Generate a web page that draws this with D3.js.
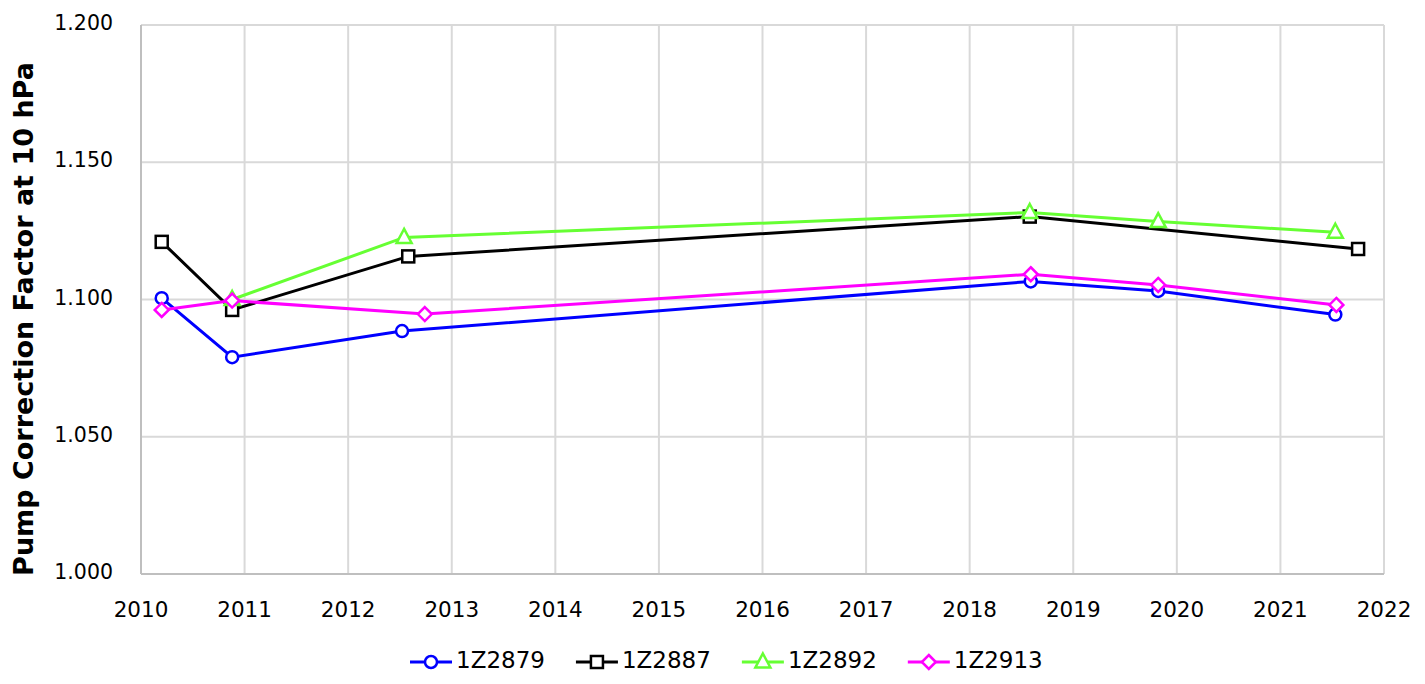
<!DOCTYPE html>
<head>
    <meta charset="utf-8">
    <script src="https://d3js.org/d3.v7.min.js"></script>
    <style>
        body { margin: 0; background: #fff; }
        text { font-family: "DejaVu Sans", Verdana, sans-serif; }
    </style>
</head>
<body>
    <svg id="my_dataviz" width="1425" height="684"></svg>
    <script>
        // series data (decimal year, correction factor)
        var names = ["1Z2879", "1Z2887", "1Z2892", "1Z2913"];
        var colors = ["#0000ff", "#000000", "#66ff33", "#ff00ff"];
        var shapes = ["circle", "square", "triangle", "diamond"];

        var years1 = [2010.20, 2010.88, 2012.52, 2018.59, 2019.82, 2021.53];
        var vals1  = [1.1005, 1.0790, 1.0885, 1.1066, 1.1031, 1.0945];

        var years2 = [2010.20, 2010.88, 2012.58, 2018.58, 2021.75];
        var vals2  = [1.1210, 1.0962, 1.1157, 1.1302, 1.1184];

        var years3 = [2010.88, 2012.54, 2018.58, 2019.82, 2021.53];
        var vals3  = [1.1000, 1.1226, 1.1317, 1.1284, 1.1245];

        var years4 = [2010.20, 2010.88, 2012.74, 2018.59, 2019.82, 2021.54];
        var vals4  = [1.0962, 1.0996, 1.0947, 1.1092, 1.1053, 1.0980];

        var yearTicks = d3.range(2010, 2023, 1);
        var valueTicks = [1.000, 1.050, 1.100, 1.150, 1.200];

        var allYears = [years1, years2, years3, years4];
        var allVals = [vals1, vals2, vals3, vals4];

        var svg = d3.select("svg");

        var x = d3.scaleLinear().domain([2010, 2022]).range([141, 1384]);
        var y = d3.scaleLinear().domain([1.0, 1.2]).range([574, 25]);

        // gridlines
        svg.append("g").selectAll("line")
            .data(yearTicks)
            .enter().append("line")
            .attr("x1", d => x(d)).attr("x2", d => x(d))
            .attr("y1", y(1.2)).attr("y2", y(1.0))
            .style("stroke", "#d9d9d9").style("stroke-width", 2);

        svg.append("g").selectAll("line")
            .data(valueTicks)
            .enter().append("line")
            .attr("x1", x(2010)).attr("x2", x(2022))
            .attr("y1", d => y(d)).attr("y2", d => y(d))
            .style("stroke", "#d9d9d9").style("stroke-width", 2);

        // axis lines
        svg.append("line")
            .attr("x1", x(2010)).attr("x2", x(2010)).attr("y1", y(1.2)).attr("y2", y(1.0))
            .style("stroke", "#bfbfbf").style("stroke-width", 2);
        svg.append("line")
            .attr("x1", x(2010)).attr("x2", x(2022)).attr("y1", y(1.0)).attr("y2", y(1.0))
            .style("stroke", "#bfbfbf").style("stroke-width", 2);

        // tick labels
        svg.append("g").selectAll("text")
            .data(valueTicks)
            .enter().append("text")
            .attr("x", 113).attr("y", d => y(d) + 5)
            .attr("text-anchor", "end")
            .style("font-size", "20.5px")
            .text(d => d3.format(".3f")(d));

        svg.append("g").selectAll("text")
            .data(yearTicks)
            .enter().append("text")
            .attr("x", d => x(d)).attr("y", 617)
            .attr("text-anchor", "middle")
            .style("font-size", "21.5px")
            .text(d => d);

        // y title
        svg.append("text")
            .attr("transform", "translate(33,319) rotate(-90)")
            .attr("text-anchor", "middle")
            .style("font-size", "27px")
            .style("font-weight", "bold")
            .text("Pump Correction Factor at 10 hPa");

        // marker drawing
        function marker(g, shape, color, cx, cy) {
            if (shape == "circle") {
                g.append("circle").attr("cx", cx).attr("cy", cy).attr("r", 6)
                    .style("fill", "#fff").style("stroke", color).style("stroke-width", 2.5);
            } else if (shape == "square") {
                g.append("rect").attr("x", cx - 6).attr("y", cy - 6).attr("width", 12).attr("height", 12)
                    .style("fill", "#fff").style("stroke", color).style("stroke-width", 2.5);
            } else if (shape == "triangle") {
                g.append("path").attr("d", "M" + cx + "," + (cy - 8.5) + "L" + (cx + 7.5) + "," + (cy + 5.5) + "L" + (cx - 7.5) + "," + (cy + 5.5) + "Z")
                    .style("fill", "#fff").style("stroke", color).style("stroke-width", 2.5);
            } else {
                g.append("path").attr("d", "M" + cx + "," + (cy - 7) + "L" + (cx + 7) + "," + cy + "L" + cx + "," + (cy + 7) + "L" + (cx - 7) + "," + cy + "Z")
                    .style("fill", "#fff").style("stroke", color).style("stroke-width", 2.5);
            }
        }

        var line = d3.line().x(d => x(d[0])).y(d => y(d[1]));

        names.forEach(function (name, i) {
            var pts = allYears[i].map((yr, j) => [yr, allVals[i][j]]);
            var g = svg.append("g");
            g.append("path")
                .datum(pts)
                .attr("d", line)
                .style("fill", "none")
                .style("stroke", colors[i])
                .style("stroke-width", 3);
            pts.forEach(p => marker(g, shapes[i], colors[i], x(p[0]), y(p[1])));
        });

        // legend
        var lx = 410, ly = 662;
        names.forEach(function (name, i) {
            var g = svg.append("g");
            g.append("line").attr("x1", lx).attr("x2", lx + 42).attr("y1", ly).attr("y2", ly)
                .style("stroke", colors[i]).style("stroke-width", 3);
            marker(g, shapes[i], colors[i], lx + 21, ly);
            var t = g.append("text").attr("x", lx + 46).attr("y", ly + 6)
                .style("font-size", "23px").text(name);
            lx = lx + 46 + t.node().getComputedTextLength() + 31;
        });
    </script>
</body>
